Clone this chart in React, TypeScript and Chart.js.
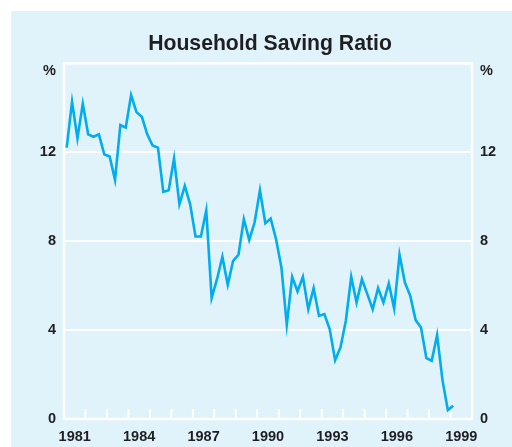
import { useEffect, useRef } from 'react';
import { Chart, registerables } from 'chart.js';

Chart.register(...registerables);

const chartTitle = 'Household Saving Ratio';
const unitLabel = '%';
const axisStartYear = 1981;
const axisEndYear = 2000;
const firstDataYear = 1981;

// Quarterly household saving ratio, per cent (1981 Q1 to 1999 Q1)
const savingRatio = [
  12.21, 14.28, 12.63, 14.19, 12.81, 12.7, 12.81, 11.91,
  11.81, 10.76, 13.23, 13.11, 14.58, 13.81, 13.6, 12.81,
  12.31, 12.21, 10.22, 10.29, 11.72, 9.66, 10.49, 9.66,
  8.21, 8.21, 9.39, 5.44, 6.29, 7.3, 6.04, 7.12,
  7.39, 8.99, 8.06, 8.84, 10.29, 8.81, 9.02, 8.09,
  6.82, 4.24, 6.4, 5.74, 6.4, 4.94, 5.89, 4.64,
  4.72, 4.04, 2.65, 3.22, 4.42, 6.4, 5.24, 6.29,
  5.62, 4.94, 5.89, 5.24, 6.1, 4.97, 7.39, 6.14,
  5.54, 4.45, 4.12, 2.74, 2.62, 3.78, 1.75, 0.4,
  0.6,
];

const quarterLabels = savingRatio.map(
  (_, i) => `${firstDataYear + Math.floor(i / 4)} Q${(i % 4) + 1}`
);

const xLabelYears = [1981, 1984, 1987, 1990, 1993, 1996, 1999];
const yTickValues = [0, 4, 8, 12];
const yMin = 0;
const yMax = 16;
const unitTickValue = 15.65;

const fontFamily = '"Liberation Sans", Arial, Helvetica, sans-serif';
const textColor = '#1f1f22';
const lineColor = '#00aeef';
const panelColor = '#e0f2fa';

function quarterToX(label: string): number {
  const [y, q] = label.split(' Q');
  return Number(y) + (Number(q) - 0.5) / 4;
}

const framePlugin = {
  id: 'frameAndTicks',
  beforeDatasetsDraw(chart: any) {
    const { ctx, chartArea: a, scales } = chart;
    const xs = scales.x;
    ctx.save();
    ctx.strokeStyle = '#ffffff';
    ctx.lineWidth = 2;
    for (let yr = axisStartYear + 1; yr < axisEndYear; yr++) {
      const px = xs.getPixelForValue(yr);
      ctx.beginPath();
      ctx.moveTo(px, a.bottom);
      ctx.lineTo(px, a.bottom - 10);
      ctx.stroke();
    }
    ctx.lineWidth = 2.5;
    ctx.strokeRect(a.left, a.top, a.right - a.left, a.bottom - a.top);
    ctx.restore();
  },
};

export default function App() {
  const ref = useRef<HTMLCanvasElement | null>(null);

  useEffect(() => {
    if (!ref.current) return;
    const tickFont = { family: fontFamily, size: 14.5, weight: 'bold' as const };
    const yTicksBuilder = (scale: any) => {
      scale.ticks = [...yTickValues, unitTickValue].map((v) => ({ value: v }));
    };
    const yCallback = (v: any) => (Number(v) > yMax - 1 ? unitLabel : String(v));

    const chart = new Chart(ref.current, {
      type: 'line',
      data: {
        datasets: [
          {
            label: chartTitle,
            data: quarterLabels.map((q, i) => ({ x: quarterToX(q), y: savingRatio[i] })),
            borderColor: lineColor,
            borderWidth: 2.6,
            pointRadius: 0,
            tension: 0,
            fill: false,
          },
        ],
      },
      options: {
        responsive: false,
        animation: false,
        layout: { padding: { left: 17, right: 0, top: 0, bottom: 0 } },
        plugins: {
          legend: { display: false },
          tooltip: { enabled: false },
          title: {
            display: true,
            text: chartTitle,
            color: textColor,
            font: { family: fontFamily, size: 21.2, weight: 'bold' },
            padding: { top: 20.5, bottom: 6.5 },
          },
        },
        scales: {
          x: {
            type: 'linear',
            position: 'bottom',
            min: axisStartYear,
            max: axisEndYear,
            afterBuildTicks: (scale: any) => {
              scale.ticks = xLabelYears.map((y) => ({ value: y + 0.5 }));
            },
            afterFit: (scale: any) => {
              scale.height = 28;
            },
            grid: { display: false, drawTicks: false },
            border: { display: false },
            ticks: {
              autoSkip: false,
              maxRotation: 0,
              padding: 9.5,
              color: textColor,
              font: tickFont,
              callback: (v: any) => String(Math.floor(Number(v))),
            },
          },
          y: {
            type: 'linear',
            position: 'left',
            min: yMin,
            max: yMax,
            afterBuildTicks: yTicksBuilder,
            afterFit: (scale: any) => {
              scale.width = 36;
            },
            grid: {
              drawTicks: false,
              lineWidth: 2,
              color: (c: any) =>
                c.tick && c.tick.value > 0 && yTickValues.includes(c.tick.value)
                  ? '#ffffff'
                  : 'rgba(0,0,0,0)',
            },
            border: { display: false },
            ticks: { padding: 8, color: textColor, font: tickFont, callback: yCallback },
          },
          y1: {
            type: 'linear',
            position: 'right',
            min: yMin,
            max: yMax,
            afterBuildTicks: yTicksBuilder,
            afterFit: (scale: any) => {
              scale.width = 40;
            },
            grid: { display: false, drawTicks: false },
            border: { display: false },
            ticks: { padding: 8, color: textColor, font: tickFont, callback: yCallback },
          },
        },
      },
      plugins: [framePlugin],
    });
    return () => chart.destroy();
  }, []);

  return (
    <div style={{ position: 'fixed', left: 0, top: 0, width: 512, height: 447, background: '#ffffff' }}>
      <div style={{ position: 'absolute', left: 11, top: 11, width: 501, height: 436, background: panelColor }}>
        <canvas ref={ref} width={501} height={436} style={{ display: 'block', width: 501, height: 436 }} />
      </div>
    </div>
  );
}
